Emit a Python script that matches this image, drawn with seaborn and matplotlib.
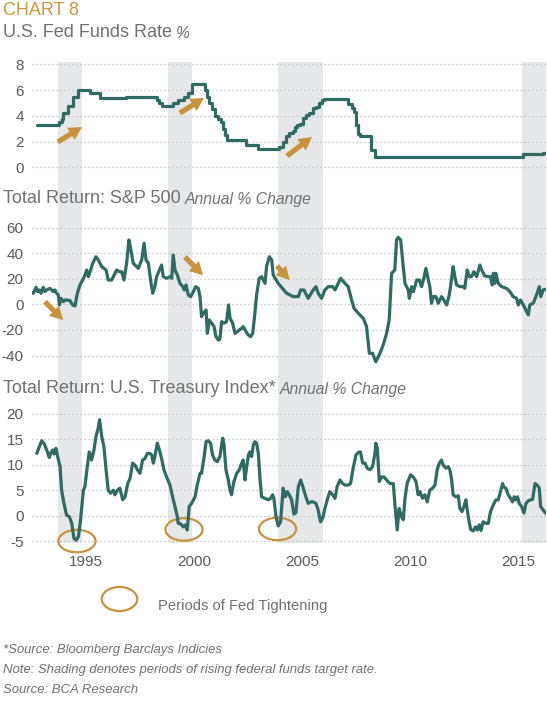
import matplotlib
matplotlib.use("Agg")
import matplotlib.pyplot as plt
import seaborn as sns
from matplotlib import font_manager
from matplotlib.patches import Ellipse

# === Data (decimal years) ===
tight_start = [1994.20, 1999.31, 2004.37, 2015.67]
tight_end = [1995.31, 2000.39, 2006.46, 2016.80]

fed_years = [1993.22, 1994.27, 1994.37, 1994.45, 1994.68, 1994.91, 1995.15, 1995.69, 1996.15, 1997.35,
             1998.80, 1998.89, 1999.02, 1999.54, 1999.77, 2000.05, 2000.24, 2000.39, 2001.01, 2001.12,
             2001.21, 2001.35, 2001.47, 2001.63, 2001.75, 2001.86, 2001.94, 2002.01, 2002.91, 2003.45,
             2004.45, 2004.63, 2004.76, 2004.91, 2005.07, 2005.17, 2005.28, 2005.41, 2005.56, 2005.68,
             2005.84, 2005.99, 2006.15, 2006.30, 2006.41, 2006.52, 2007.64, 2007.80, 2007.91, 2008.00,
             2008.11, 2008.18, 2008.68, 2008.88, 2015.75, 2016.67, 2016.78]
fed_rate = [3.25, 3.5, 3.75, 4.25, 4.75, 5.5, 6.0, 5.75, 5.35, 5.5,
            5.25, 5.0, 4.8, 5.0, 5.25, 5.5, 5.75, 6.45, 6.0, 5.5,
            5.0, 4.5, 4.0, 3.75, 3.5, 3.0, 2.5, 2.1, 1.75, 1.42,
            1.6, 2.0, 2.4, 2.7, 2.8, 3.1, 3.3, 3.4, 3.8, 4.1,
            4.2, 4.6, 4.7, 5.0, 5.2, 5.3, 4.9, 4.6, 4.3, 3.3,
            2.6, 2.4, 1.35, 0.78, 1.0, 1.1, 1.1]

sp_years = [1993.00, 1993.06, 1993.19, 1993.26, 1993.34, 1993.42, 1993.52, 1993.60, 1993.68, 1993.83,
            1993.99, 1994.06, 1994.14, 1994.22, 1994.27, 1994.34, 1994.45, 1994.53, 1994.60, 1994.76,
            1994.88, 1994.99, 1995.10, 1995.22, 1995.35, 1995.45, 1995.53, 1995.61, 1995.69, 1995.81,
            1995.96, 1996.07, 1996.23, 1996.43, 1996.53, 1996.69, 1996.84, 1996.92, 1997.04, 1997.15,
            1997.26, 1997.38, 1997.49, 1997.58, 1997.69, 1997.85, 1997.92, 1998.08, 1998.19, 1998.28,
            1998.39, 1998.49, 1998.59, 1998.69, 1998.77, 1998.90, 1999.00, 1999.08, 1999.23, 1999.39,
            1999.47, 1999.54, 1999.62, 1999.73, 1999.85, 1999.98, 2000.05, 2000.13, 2000.24, 2000.35,
            2000.47, 2000.58, 2000.70, 2000.78, 2000.85, 2000.93, 2001.06, 2001.12, 2001.21, 2001.32,
            2001.43, 2001.52, 2001.63, 2001.70, 2001.78, 2001.89, 2002.01, 2002.10, 2002.17, 2002.29,
            2002.40, 2002.51, 2002.60, 2002.71, 2002.78, 2002.91, 2003.02, 2003.12, 2003.22, 2003.32,
            2003.40, 2003.52, 2003.63, 2003.71, 2003.79, 2003.86, 2003.99, 2004.10, 2004.17, 2004.40,
            2004.79, 2005.10, 2005.33, 2005.44, 2005.59, 2005.79, 2006.02, 2006.15, 2006.25, 2006.41,
            2006.56, 2006.72, 2006.92, 2007.03, 2007.29, 2007.49, 2007.64, 2007.80, 2007.91, 2008.11,
            2008.34, 2008.49, 2008.62, 2008.77, 2008.92, 2009.11, 2009.26, 2009.42, 2009.54, 2009.65,
            2009.80, 2009.88, 2009.96, 2010.07, 2010.19, 2010.27, 2010.42, 2010.47, 2010.58, 2010.65,
            2010.73, 2010.81, 2010.93, 2011.04, 2011.16, 2011.24, 2011.35, 2011.42, 2011.50, 2011.58,
            2011.70, 2011.81, 2011.96, 2012.07, 2012.20, 2012.32, 2012.38, 2012.50, 2012.58, 2012.66,
            2012.81, 2012.97, 2013.04, 2013.15, 2013.25, 2013.35, 2013.46, 2013.59, 2013.74, 2013.82,
            2013.97, 2014.13, 2014.23, 2014.31, 2014.36, 2014.43, 2014.48, 2014.59, 2014.74, 2014.97,
            2015.13, 2015.28, 2015.44, 2015.51, 2015.62, 2015.75, 2015.90, 2015.98, 2016.05, 2016.21,
            2016.36, 2016.49, 2016.56, 2016.67, 2016.75]
sp_return = [9.1, 8.6, 13.3, 9.9, 11.2, 8.6, 13.3, 9.9, 11.2, 12.5,
             9.9, 11.2, 8.6, 7.3, -0.5, 4.7, 2.1, 3.4, 3.4, 2.9,
             -0.5, -1.3, 8.6, 15.1, 19.0, 22.9, 26.8, 21.6, 25.5, 32.0,
             37.2, 34.6, 29.4, 26.8, 19.0, 19.0, 24.2, 26.8, 25.5, 25.5,
             19.0, 32.0, 50.3, 42.4, 32.0, 29.4, 28.1, 34.6, 47.7, 34.6,
             32.0, 19.0, 8.6, 13.8, 21.6, 26.8, 30.7, 21.6, 20.3, 21.6,
             20.3, 38.5, 26.8, 22.9, 16.4, 13.8, 11.2, 15.1, 7.3, 6.0,
             9.9, 13.8, 12.5, 6.0, -9.6, -7.0, -4.4, -22.7, -12.2, -14.8,
             -17.4, -25.3, -27.9, -27.3, -13.5, -14.8, -13.5, -0.5, -10.9, -14.8,
             -22.7, -21.4, -20.0, -18.8, -17.4, -21.4, -24.0, -25.3, -22.7, -7.0,
             7.3, 20.3, 21.6, 19.0, 16.4, 29.4, 37.2, 34.6, 22.9, 16.4,
             8.6, 6.0, 6.0, 11.2, 11.2, 4.7, 11.2, 13.8, 8.6, 4.7,
             11.2, 13.8, 13.8, 11.2, 20.3, 16.4, 13.8, 3.4, -3.1, -7.0,
             -10.9, -17.4, -38.3, -38.3, -44.8, -38.3, -31.8, -22.7, -12.2, 24.2,
             26.8, 50.3, 52.3, 50.3, 29.4, 16.4, 11.2, 4.7, 13.8, 9.9,
             13.8, 19.0, 19.0, 13.8, 21.6, 28.1, 19.0, 13.8, 0.8, 6.0,
             6.0, 0.8, 6.0, 3.4, -0.5, 7.3, 13.8, 29.4, 21.6, 15.1,
             13.8, 13.8, 12.5, 26.8, 21.6, 21.6, 25.5, 21.6, 30.7, 26.8,
             22.2, 21.6, 21.6, 15.1, 24.2, 16.4, 24.2, 16.4, 13.8, 12.5,
             9.9, 6.0, 4.7, -0.5, 3.4, -0.5, -5.7, -8.3, -0.5, 0.8,
             7.3, 13.8, 6.0, 11.2, 11.7]

tsy_years = [1993.22, 1993.34, 1993.45, 1993.56, 1993.68, 1993.80, 1993.86, 1993.96, 1994.02, 1994.11,
             1994.17, 1994.30, 1994.37, 1994.48, 1994.60, 1994.73, 1994.84, 1994.94, 1995.04, 1995.15,
             1995.25, 1995.38, 1995.45, 1995.56, 1995.65, 1995.76, 1995.87, 1995.96, 1996.06, 1996.13,
             1996.23, 1996.33, 1996.43, 1996.53, 1996.64, 1996.77, 1996.84, 1996.95, 1997.07, 1997.20,
             1997.31, 1997.43, 1997.54, 1997.66, 1997.77, 1997.88, 1998.00, 1998.12, 1998.23, 1998.34,
             1998.46, 1998.54, 1998.62, 1998.69, 1998.80, 1998.90, 1999.00, 1999.11, 1999.23, 1999.39,
             1999.51, 1999.62, 1999.73, 1999.77, 1999.88, 2000.01, 2000.10, 2000.19, 2000.28, 2000.39,
             2000.55, 2000.65, 2000.78, 2000.85, 2000.96, 2001.06, 2001.16, 2001.27, 2001.36, 2001.47,
             2001.58, 2001.70, 2001.83, 2001.89, 2001.98, 2002.09, 2002.17, 2002.24, 2002.35, 2002.48,
             2002.60, 2002.71, 2002.78, 2002.86, 2002.94, 2003.02, 2003.09, 2003.17, 2003.25, 2003.32,
             2003.40, 2003.48, 2003.56, 2003.63, 2003.79, 2003.94, 2004.05, 2004.14, 2004.20, 2004.30,
             2004.40, 2004.51, 2004.63, 2004.73, 2004.82, 2004.91, 2005.02, 2005.13, 2005.22, 2005.33,
             2005.44, 2005.56, 2005.68, 2005.79, 2005.90, 2006.02, 2006.15, 2006.25, 2006.36, 2006.46,
             2006.56, 2006.67, 2006.79, 2006.92, 2007.03, 2007.13, 2007.26, 2007.38, 2007.49, 2007.64,
             2007.75, 2007.87, 2008.00, 2008.11, 2008.21, 2008.31, 2008.42, 2008.52, 2008.65, 2008.77,
             2008.88, 2008.92, 2008.99, 2009.08, 2009.19, 2009.29, 2009.42, 2009.57, 2009.73, 2009.80,
             2009.91, 2010.00, 2010.11, 2010.19, 2010.27, 2010.37, 2010.53, 2010.65, 2010.78, 2010.88,
             2010.96, 2011.08, 2011.19, 2011.30, 2011.42, 2011.55, 2011.66, 2011.76, 2011.86, 2011.96,
             2012.04, 2012.17, 2012.27, 2012.35, 2012.43, 2012.50, 2012.63, 2012.74, 2012.81, 2012.91,
             2013.00, 2013.09, 2013.20, 2013.31, 2013.43, 2013.54, 2013.62, 2013.71, 2013.79, 2013.89,
             2014.02, 2014.13, 2014.23, 2014.36, 2014.48, 2014.59, 2014.67, 2014.79, 2014.85, 2014.94,
             2015.05, 2015.16, 2015.25, 2015.33, 2015.41, 2015.48, 2015.56, 2015.67, 2015.78, 2015.87,
             2015.98, 2016.09, 2016.18, 2016.29, 2016.39, 2016.49, 2016.55, 2016.67, 2016.78]
tsy_return = [12.2, 13.5, 14.7, 14.1, 12.9, 11.4, 12.2, 12.9, 12.1, 13.2,
              11.9, 9.6, 5.0, 2.4, 0.1, -0.2, -1.5, -4.4, -4.8, -4.1,
              -0.8, 5.0, 5.7, 9.6, 12.5, 10.9, 12.9, 15.5, 17.1, 18.8,
              15.5, 13.5, 9.0, 5.0, 4.4, 5.0, 4.1, 5.0, 5.4, 3.1,
              3.7, 6.3, 7.3, 10.3, 9.9, 9.0, 8.3, 10.9, 11.2, 12.2,
              12.2, 11.9, 10.3, 11.6, 14.2, 12.9, 11.2, 9.0, 7.6, 6.0,
              3.7, 1.8, -0.2, -1.5, -1.6, -2.2, -1.8, -2.8, 1.8, 2.4,
              3.7, 6.0, 8.3, 8.3, 11.2, 14.5, 14.7, 14.2, 11.9, 10.9,
              10.6, 11.6, 15.2, 13.9, 9.0, 7.0, 5.0, 4.1, 6.7, 8.3,
              9.0, 10.3, 10.9, 7.0, 9.6, 11.9, 12.5, 11.6, 13.9, 14.5,
              14.2, 12.2, 7.0, 3.7, 3.4, 3.1, 3.4, 4.1, 3.4, -0.2,
              -2.0, -1.2, 5.4, 3.7, 4.7, 4.1, 3.1, 0.3, 0.6, 5.7,
              7.0, 5.4, 3.7, 2.4, 2.7, 2.7, 2.4, 1.1, -1.2, -0.5,
              1.4, 3.1, 4.7, 4.1, 3.4, 5.7, 7.0, 6.3, 6.0, 6.0,
              6.3, 9.3, 11.9, 12.4, 12.5, 10.3, 10.3, 9.3, 9.0, 9.6,
              12.2, 14.2, 13.2, 6.7, 7.6, 7.6, 7.0, 6.3, 6.3, 2.4,
              -2.8, 1.4, -0.2, -0.8, 3.4, 6.3, 8.0, 7.6, 6.7, 4.1,
              4.7, 3.4, 4.1, 2.7, 5.0, 5.4, 6.0, 9.0, 10.3, 10.9,
              9.9, 9.3, 9.6, 9.0, 7.0, 4.1, 3.7, 3.9, 1.4, 0.8,
              1.8, 3.1, -0.2, -2.7, -3.0, -2.2, -2.8, -1.8, -2.9, -1.2,
              -1.5, -1.5, 0.8, 2.1, 3.1, 3.1, 4.4, 6.3, 5.6, 5.4,
              4.1, 3.4, 2.7, 3.7, 3.1, 3.7, 2.4, 1.8, 0.5, 2.4,
              2.9, 3.1, 3.2, 6.3, 6.0, 5.4, 1.8, 1.1, 0.5]

year_ticks = [1995.5, 2000.5, 2005.5, 2010.5, 2015.5]
year_labels = ["1995", "2000", "2005", "2010", "2015"]

# === Style ===
sns.set_style("white")
installed = {f.name for f in font_manager.fontManager.ttflist}
has_narrow = "Liberation Sans Narrow" in installed
NARROW = "Liberation Sans Narrow" if has_narrow else "Liberation Sans"
nscale = 1.0 if has_narrow else 0.82
plt.rcParams["font.family"] = ["Liberation Sans", "DejaVu Sans"]

TEAL = "#2e6b62"
GOLD = "#c8913a"
SHADE = "#e6e7e8"
GRAY_TXT = "#707070"
TICK_TXT = "#595959"

W, H = 547, 704
fig = plt.figure(figsize=(W / 100, H / 100), dpi=100)
X0, X1 = 1993.0, 2016.8


def box(top, bottom):
    return [32 / W, 1 - bottom / H, (546 - 32) / W, (bottom - top) / H]


# shading runs behind all three panels
ax_bg = fig.add_axes(box(62, 543))
ax_bg.set_xlim(X0, X1)
ax_bg.axis("off")
for s, e in zip(tight_start, tight_end):
    ax_bg.axvspan(s, e, color=SHADE, lw=0)

ax1 = fig.add_axes(box(60, 175))
ax2 = fig.add_axes(box(222, 365))
ax3 = fig.add_axes(box(405, 545))

sns.lineplot(x=fed_years, y=fed_rate, ax=ax1, color=TEAL, linewidth=2.3,
             drawstyle="steps-post", estimator=None)
sns.lineplot(x=sp_years, y=sp_return, ax=ax2, color=TEAL, linewidth=2.3, estimator=None)
sns.lineplot(x=tsy_years, y=tsy_return, ax=ax3, color=TEAL, linewidth=2.3, estimator=None)

panels = [(ax1, (-0.6, 8.34), [0, 2, 4, 6, 8]),
          (ax2, (-47.4, 64.3), [-40, -20, 0, 20, 40, 60]),
          (ax3, (-5.75, 21.7), [-5, 0, 5, 10, 15, 20])]
for ax, ylim, yt in panels:
    ax.set_facecolor("none")
    ax.set_xlim(X0, X1)
    ax.set_ylim(*ylim)
    ax.set_yticks(yt)
    ax.set_yticklabels([str(v) for v in yt])
    ax.set_xticks(year_ticks)
    ax.grid(axis="y", linestyle=(0, (1, 2.2)), color="#bdbdbd", lw=0.9)
    ax.grid(axis="x", visible=False)
    for sp in ax.spines.values():
        sp.set_visible(False)
    ax.tick_params(axis="y", length=0, pad=6, labelsize=11, labelcolor=TICK_TXT)
    ax.tick_params(axis="x", length=0, pad=7, labelsize=11, labelcolor=TICK_TXT)
    ax.set_xlabel("")
    ax.set_ylabel("")
ax1.set_xticklabels([])
ax2.set_xticklabels([])
ax3.set_xticklabels(year_labels)

# arrows marking rate moves / market reaction
arrow_kw = dict(arrowstyle="simple,head_length=0.55,head_width=0.6,tail_width=0.22",
                color=GOLD, lw=0, shrinkA=0, shrinkB=0, mutation_scale=17)
for tail, head in [((1994.2, 1.97), (1995.31, 3.13)),
                   ((1999.85, 4.22), (2000.96, 5.39)),
                   ((2004.81, 0.88), (2005.96, 2.36))]:
    ax1.annotate("", xy=head, xytext=tail, arrowprops=arrow_kw, annotation_clip=False)
for tail, head in [((1993.6, 2.0), (1994.44, -12.3)),
                   ((2000.08, 37.0), (2000.92, 22.7)),
                   ((2004.34, 29.9), (2004.93, 19.0))]:
    ax2.annotate("", xy=head, xytext=tail, arrowprops=arrow_kw, annotation_clip=False)

# circled troughs in treasury returns
for cx, cy in [(1995.08, -4.98), (2000.04, -2.7), (2004.37, -2.6)]:
    ax3.add_patch(Ellipse((cx, cy), 1.72, 4.4, fill=False, edgecolor=GOLD, lw=1.6, clip_on=False))

# === Text ===
fig.text(3 / W, 1 - 15 / H, "CHART 8", color="#c99a3c", fontsize=13, va="baseline")
title_kw = dict(color=GRAY_TXT, fontsize=13, va="baseline")
ital_kw = dict(color=GRAY_TXT, fontsize=13.8 * nscale, family=NARROW, style="italic",
               va="bottom", textcoords="offset points", annotation_clip=False)
t1 = fig.text(3 / W, 1 - 37 / H, "U.S. Fed Funds Rate", **title_kw)
ax_bg.annotate("%", xy=(1, 0), xycoords=t1, xytext=(3, 0), **ital_kw)
t2 = fig.text(3 / W, 1 - 203 / H, "Total Return: S&P 500", **title_kw)
ax_bg.annotate("Annual % Change", xy=(1, 0), xycoords=t2, xytext=(3, 0), **ital_kw)
t3 = fig.text(3 / W, 1 - 393 / H, "Total Return: U.S. Treasury Index*", **title_kw)
ax_bg.annotate("Annual % Change", xy=(1, 0), xycoords=t3, xytext=(3, 0), **ital_kw)

# legend
fig.patches.append(Ellipse((119.5 / W, 1 - 599 / H), 35.5 / W, 24 / H, fill=False,
                           edgecolor=GOLD, lw=1.6, transform=fig.transFigure))
fig.text(158 / W, 1 - 610 / H, "Periods of Fed Tightening", color=GRAY_TXT,
         fontsize=13 * nscale, family=NARROW, va="baseline")

notes = ["*Source: Bloomberg Barclays Indicies",
         "Note: Shading denotes periods of rising federal funds target rate.",
         "Source: BCA Research"]
for i, line in enumerate(notes):
    fig.text(3 / W, 1 - (653 + 20 * i) / H, line, color=GRAY_TXT, fontsize=11.5 * nscale,
             family=NARROW, style="italic", va="baseline")

fig.savefig("out.png", dpi=100)
